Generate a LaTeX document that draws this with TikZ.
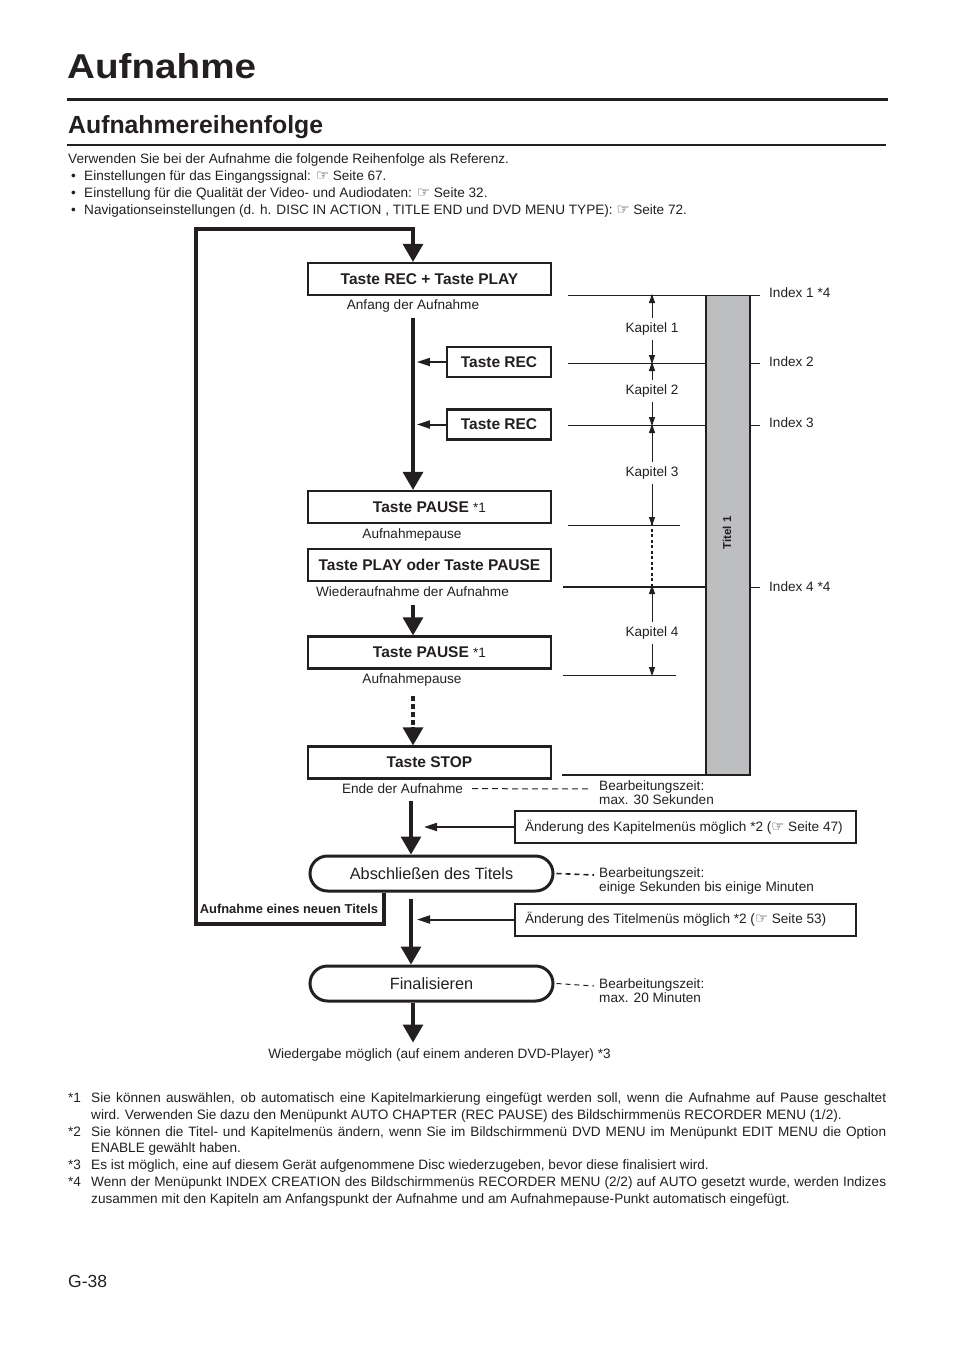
\documentclass[tikz,border=0pt]{standalone}
\usepackage{fontspec}
\setmainfont{Liberation Sans}
\newfontfamily\symfont{DejaVu Sans}
\newfontfamily\titlefont[FakeStretch=1.12]{Liberation Sans Bold}
\usetikzlibrary{arrows.meta,positioning,calc}
\definecolor{ink}{RGB}{35,31,32}
\definecolor{barfill}{RGB}{189,190,192}
\newcommand{\hand}{{\symfont\fontsize{14.5}{16}\selectfont\char"261E}}
\newcommand{\smalltext}{\fontsize{13.6}{16.9}\selectfont}
\newcommand{\notetext}[1]{\makebox[321pt][l]{#1}}
\tikzstyle{txt}=[anchor=base west,inner sep=0pt,font=\smalltext]
\tikzstyle{caption}=[anchor=base,inner sep=0pt,font=\smalltext]
\tikzstyle{keybox}=[draw=ink,line width=2.2pt,minimum width=243pt,minimum height=32pt,inner sep=0pt,font=\fontsize{15.5}{18}\bfseries]
\tikzstyle{reckey}=[keybox,minimum width=104pt,minimum height=30pt]
\tikzstyle{roundbox}=[draw=ink,line width=3pt,rounded corners=17.5pt,minimum width=243pt,minimum height=35pt,inner sep=0pt,font=\fontsize{16.3}{19}\selectfont]
\tikzstyle{notebox}=[draw=ink,line width=2pt,minimum width=341pt,minimum height=32pt,inner xsep=10pt,inner ysep=0pt,font=\smalltext]
\tikzstyle{flow}=[line width=3.2pt,-{Triangle[width=20pt,length=18pt]}]
\tikzstyle{sidearrow}=[line width=2pt,-{Triangle[width=8pt,length=13pt]}]
\tikzstyle{kaparrow}=[line width=0.9pt,-{Triangle[width=6pt,length=9pt]}]
\tikzstyle{thinline}=[line width=1pt]
\tikzstyle{thickline}=[line width=2.4pt]
\tikzstyle{waitline}=[line width=1pt,dash pattern=on 6pt off 4pt]

\begin{document}
\begin{tikzpicture}[x=1pt,y=-1pt,ink]
\useasboundingbox (0,0) rectangle (954,1351);

% Kopfzeilen
\node[anchor=base west,inner sep=0pt,font=\fontsize{34.5}{40}\titlefont] (title) at (67,79) {Aufnahme};
\draw[line width=3pt] (67,100) -- (888,100);
\node[anchor=base west,inner sep=0pt,font=\fontsize{24.8}{28}\bfseries] (subtitle) at (68,134) {Aufnahmereihenfolge};
\draw[line width=1.4pt] (67,145) -- (886,145);

\node[txt] (intro) at (68,163.5) {Verwenden Sie bei der Aufnahme die folgende Reihenfolge als Referenz.};
\node[txt] (dot1) at (71,180.5) {•};
\node[txt] (item1) at (84,180.5) {Einstellungen für das Eingangssignal: \hand{} Seite 67.};
\node[txt] (dot2) at (71,197.5) {•};
\node[txt] (item2) at (84,197.5) {Einstellung für die Qualität der Video- und Audiodaten: \hand{} Seite 32.};
\node[txt] (dot3) at (71,214.5) {•};
\node[txt] (item3) at (84,214.5) {Navigationseinstellungen (d. h. DISC IN ACTION , TITLE END und DVD MENU TYPE): \hand{} Seite 72.};

% Ablauf
\node[keybox] (recplay) at (429.5,279) {Taste REC + Taste PLAY};
\node[caption] (start) at (413,309.5) {Anfang der Aufnahme};
\node[reckey] (rec1) at (499,362) {Taste REC};
\node[reckey] (rec2) at (499,424.5) {Taste REC};
\node[keybox] (pause1) at (429.5,507) {Taste PAUSE {\mdseries\smalltext *1}};
\node[caption] (pausecap1) at (412,538.5) {Aufnahmepause};
\node[keybox] (play) at (429.5,565) {Taste PLAY oder Taste PAUSE};
\node[caption] (resume) at (412.5,596.5) {Wiederaufnahme der Aufnahme};
\node[keybox] (pause2) at (429.5,652.5) {Taste PAUSE {\mdseries\smalltext *1}};
\node[caption] (pausecap2) at (412,683.5) {Aufnahmepause};
\node[keybox] (stop) at (429.5,762.5) {Taste STOP};
\node[caption] (endrec) at (402.5,793.5) {Ende der Aufnahme};
\node[notebox] (chapmenu) at (685.5,827) {\notetext{Änderung des Kapitelmenüs möglich *2 (\hand{} Seite 47)}};
\node[roundbox] (close) at (431.5,873.5) {Abschließen des Titels};
\node[notebox] (titlemenu) at (685.5,919.5) {\notetext{Änderung des Titelmenüs möglich *2 (\hand{} Seite 53)}};
\node[roundbox] (final) at (431.5,983.5) {Finalisieren};
\node[caption] (playback) at (439.5,1058.5) {Wiedergabe möglich (auf einem anderen DVD-Player) *3};

\node[anchor=base,inner sep=0pt,font=\fontsize{12.9}{15}\bfseries] (newtitle) at (289,913.5) {Aufnahme eines neuen Titels};
\coordinate (loopA) at (384,924);
\coordinate (loopB) at (196,924);
\coordinate (loopC) at (196,229);
\coordinate (loopD) at (413,229);
\draw[flow] (close.south -| loopA) -- (loopA) -- (loopB) -- (loopC) -- (loopD) -- (recplay.north -| loopD);

\draw[flow] ([yshift=-5pt]start.south -| loopD) -- (pause1.north -| loopD);
\draw[sidearrow] (rec1.west) -- ++(-29,0);
\draw[sidearrow] (rec2.west) -- ++(-29,0);
\draw[flow] ([yshift=-8pt]resume.south -| loopD) -- (pause2.north -| loopD);
\draw[line width=3.2pt,dash pattern=on 5pt off 3pt] ([yshift=-9pt]pausecap2.south -| loopD) -- ++(0,34);
\draw[flow] ([yshift=-40pt]pausecap2.south -| loopD) -- (stop.north -| loopD);
\coordinate (stem) at (411,0);
\draw[flow] ([yshift=-7pt]endrec.south -| stem) -- (close.north -| stem);
\draw[sidearrow] (chapmenu.west) -- ++(-90,0);
\draw[flow] ([yshift=-6pt]close.south -| stem) -- (final.north -| stem);
\draw[sidearrow] (titlemenu.west) -- ++(-97,0);
\draw[flow] (final.south -| loopD) -- ++(0,40);

% Bearbeitungszeiten
\draw[waitline] ([xshift=9pt]endrec.east) -- (592,789);
\node[anchor=north west,inner sep=0pt,align=left,font=\smalltext] (wait1) at (599,780.5) {Bearbeitungszeit:\\[-2.7pt]max. 30 Sekunden};
\draw[line width=1.6pt,dash pattern=on 5pt off 4pt] ([xshift=2pt]close.east) -- (594,875);
\node[anchor=north west,inner sep=0pt,align=left,font=\smalltext] (wait2) at (599,867) {Bearbeitungszeit:\\[-2.7pt]einige Sekunden bis einige Minuten};
\draw[thinline,dash pattern=on 5pt off 4pt] ([xshift=2pt]final.east) -- (594,986);
\node[anchor=north west,inner sep=0pt,align=left,font=\smalltext] (wait3) at (599,978) {Bearbeitungszeit:\\[-2.7pt]max. 20 Minuten};

% Titel mit Kapiteln
\fill[barfill] (706,295) rectangle (750,775);
\draw[thickline] (706,295) -- (706,775);
\draw[thickline] (750,295) -- (750,775);
\node[rotate=90,inner sep=0pt,font=\fontsize{11.5}{13}\bfseries] (title1) at (727,533) {Titel 1};

\coordinate (ix1) at (568,295);
\coordinate (ix2) at (568,363);
\coordinate (ix3) at (568,425);
\coordinate (pz1) at (568,525);
\coordinate (ix4) at (563,587);
\coordinate (pz2) at (563,675);
\coordinate (ixend) at (562,775);
\draw[thinline] (ix1) -- (760,295);
\draw[thinline] (ix2) -- (706,363) (750,363) -- (760,363);
\draw[thinline] (ix3) -- (706,425) (750,425) -- (760,425);
\draw[thinline] (pz1) -- (680,525);
\draw[thickline] (ix4) -- (706,587);
\draw[thinline] (750,587) -- (760,587);
\draw[thinline] (pz2) -- (676,675);
\draw[thickline] (ixend) -- (751.2,775);

\node[txt] (idx1) at (769,297.5) {Index 1 *4};
\node[txt] (idx2) at (769,366) {Index 2};
\node[txt] (idx3) at (769,427) {Index 3};
\node[txt] (idx4) at (769,591) {Index 4 *4};

\coordinate (kx) at (652,0);
\node[caption] (kap1) at (652,332.5) {Kapitel 1};
\node[caption] (kap2) at (652,394.5) {Kapitel 2};
\node[caption] (kap3) at (652,476.5) {Kapitel 3};
\node[caption] (kap4) at (652,636.5) {Kapitel 4};
\draw[kaparrow] ([yshift=4pt]kap1.north) -- ([yshift=1pt]ix1 -| kx);
\draw[kaparrow] ([yshift=-4pt]kap1.south) -- ([yshift=-1pt]ix2 -| kx);
\draw[kaparrow] ([yshift=4pt]kap2.north) -- ([yshift=1pt]ix2 -| kx);
\draw[kaparrow] ([yshift=-4pt]kap2.south) -- ([yshift=-1pt]ix3 -| kx);
\draw[kaparrow] ([yshift=4pt]kap3.north) -- ([yshift=1pt]ix3 -| kx);
\draw[kaparrow] ([yshift=-4pt]kap3.south) -- ([yshift=-1pt]pz1 -| kx);
\draw[line width=1.6pt,dash pattern=on 3pt off 2.5pt] ([yshift=2pt]pz1 -| kx) -- ([yshift=-2pt]ix4 -| kx);
\draw[kaparrow] ([yshift=4pt]kap4.north) -- ([yshift=2pt]ix4 -| kx);
\draw[kaparrow] ([yshift=-4pt]kap4.south) -- ([yshift=-1pt]pz2 -| kx);

% Fussnoten
\node[anchor=north west,inner sep=0pt,text width=818pt,align=justify,font=\smalltext] (notes) at (68,1092.2) {%
\hangindent=23pt\hangafter=1\noindent\makebox[23pt][l]{*1}Sie können auswählen, ob automatisch eine Kapitelmarkierung eingefügt werden soll, wenn die Aufnahme auf Pause geschaltet\linebreak wird. Verwenden Sie dazu den Menüpunkt AUTO CHAPTER (REC PAUSE) des Bildschirmmenüs RECORDER MENU (1/2).\par
\hangindent=23pt\hangafter=1\noindent\makebox[23pt][l]{*2}Sie können die Titel- und Kapitelmenüs ändern, wenn Sie im Bildschirmmenü DVD MENU im Menüpunkt EDIT MENU die Option\linebreak ENABLE gewählt haben.\par
\hangindent=23pt\hangafter=1\noindent\makebox[23pt][l]{*3}Es ist möglich, eine auf diesem Gerät aufgenommene Disc wiederzugeben, bevor diese finalisiert wird.\par
\hangindent=23pt\hangafter=1\noindent\makebox[23pt][l]{*4}Wenn der Menüpunkt INDEX CREATION des Bildschirmmenüs RECORDER MENU (2/2) auf AUTO gesetzt wurde, werden Indizes\linebreak zusammen mit den Kapiteln am Anfangspunkt der Aufnahme und am Aufnahmepause-Punkt automatisch eingefügt.\par};

\node[anchor=base west,inner sep=0pt,font=\fontsize{17.5}{20}\selectfont] (page) at (68,1287) {G-38};
\end{tikzpicture}
\end{document}
